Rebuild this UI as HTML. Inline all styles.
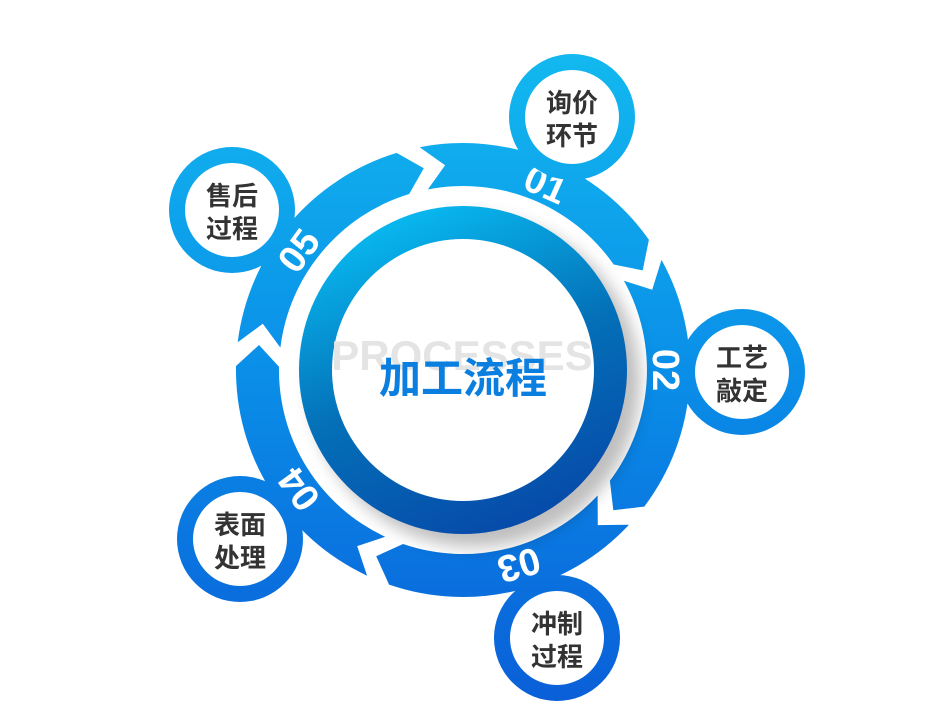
<!DOCTYPE html>
<html><head><meta charset="utf-8"><style>
html,body{margin:0;padding:0;background:#fff;width:932px;height:726px;overflow:hidden}
svg{display:block}
.n{font-family:"Liberation Sans",sans-serif;font-weight:bold;font-size:38px;fill:#fff}
.t{font-family:"Liberation Sans","Noto Sans CJK SC",sans-serif;font-weight:bold;font-size:26px;fill:#333}
</style></head><body>
<svg id="s" width="932" height="726" viewBox="0 0 932 726" xmlns="http://www.w3.org/2000/svg">
<defs>
<linearGradient id="g" gradientUnits="userSpaceOnUse" x1="0" y1="50" x2="0" y2="700">
<stop offset="0" stop-color="#12b9ef"/><stop offset="0.5" stop-color="#0a8ee8"/><stop offset="1" stop-color="#0a5fd8"/></linearGradient>
<linearGradient id="ig" x1="0.3" y1="0" x2="0.7" y2="1">
<stop offset="0" stop-color="#08bcf2"/><stop offset="0.5" stop-color="#0470b8"/><stop offset="1" stop-color="#0648a8"/></linearGradient>
<filter id="sh" x="-30%" y="-30%" width="160%" height="160%"><feGaussianBlur stdDeviation="8"/></filter>
</defs>
<g id="segs"></g>
<circle cx="475" cy="382" r="165" fill="#000" opacity="0.25" filter="url(#sh)"/>
<circle cx="463" cy="370" r="164" fill="url(#ig)"/>
<circle cx="463" cy="370" r="131" fill="#fff"/>
<text x="462" y="370" text-anchor="middle" font-family="Liberation Sans,sans-serif" font-weight="bold" font-size="42" fill="#e4e4e4">PROCESSES</text>
<text x="463" y="393" text-anchor="middle" font-family="Liberation Sans,Noto Sans CJK SC,sans-serif" font-weight="bold" font-size="42" fill="#0a7fe0">加工流程</text>
<g id="nums"></g>
<g id="circ"></g>
</svg>
<script>
var cx=463,cy=370,R=227,r=184,m=205.5;
function p(rad,a){a=a*Math.PI/180;return (cx+rad*Math.cos(a)).toFixed(1)+","+(cy+rad*Math.sin(a)).toFixed(1);}
var h="";
for(var k=0;k<5;k++){var a0=-104+72*k+3,a1=-104+72*(k+1)-3;
h+='<path fill="url(#g)" d="M'+p(R,a0)+' A'+R+','+R+' 0 0 1 '+p(R,a1)+' L'+p(m,a1+6)+' L'+p(r,a1)+' A'+r+','+r+' 0 0 0 '+p(r,a0)+' L'+p(m,a0+6)+' Z"/>';}
document.getElementById('segs').innerHTML=h;
var nums=[["01",-66],["02",0],["03",74],["04",144],["05",216]];h="";
nums.forEach(function(n){var a=n[1]*Math.PI/180,x=cx+203*Math.cos(a),y=cy+203*Math.sin(a);
h+='<text class="n" text-anchor="middle" transform="translate('+x.toFixed(1)+','+y.toFixed(1)+') rotate('+(n[1]+90)+')" y="13">'+n[0]+'</text>';});
document.getElementById('nums').innerHTML=h;
var c=[[572,117,"询价","环节"],[742,372,"工艺","敲定"],[557,638,"冲制","过程"],[240,539,"表面","处理"],[232,210,"售后","过程"]];h="";
c.forEach(function(o){h+='<circle cx="'+o[0]+'" cy="'+o[1]+'" r="63" fill="url(#g)"/><circle cx="'+o[0]+'" cy="'+o[1]+'" r="47" fill="#fff"/>'+
'<text class="t" text-anchor="middle" x="'+o[0]+'" y="'+(o[1]-5)+'">'+o[2]+'</text><text class="t" text-anchor="middle" x="'+o[0]+'" y="'+(o[1]+28)+'">'+o[3]+'</text>';});
document.getElementById('circ').innerHTML=h;
</script>
</body></html>
